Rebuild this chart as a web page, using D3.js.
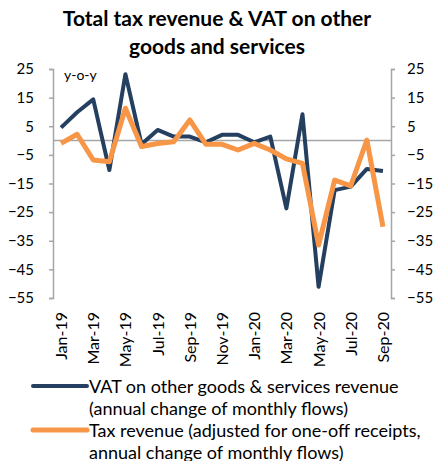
<!DOCTYPE html>
<html lang="en">
<head>
<meta charset="UTF-8">
<title>Total tax revenue & VAT on other goods and services</title>
<script src="https://d3js.org/d3.v7.min.js"></script>
<style>
  body { margin: 0; background: #fff; font-family: Lato, 'Open Sans', sans-serif; }
  svg { display: block; }
  .tick text { font-size: 15px; fill: #000; font-family: Lato, sans-serif; }
</style>
</head>
<body>
<svg width="433" height="461"></svg>
<script>
  // data
  const months = ["Jan-19","Feb-19","Mar-19","Apr-19","May-19","Jun-19","Jul-19","Aug-19","Sep-19","Oct-19","Nov-19","Dec-19",
                  "Jan-20","Feb-20","Mar-20","Apr-20","May-20","Jun-20","Jul-20","Aug-20","Sep-20"];
  const vatValues = [4.5, 9.9, 14.4, -10.3, 23.2, -1.3, 3.7, 1.4, 1.4, -0.6, 2.0, 2.0,
                     -0.6, 1.4, -23.7, 9.2, -51.1, -17.3, -16.1, -9.9, -10.6];
  const taxValues = [-1.0, 2.2, -6.8, -7.4, 11.3, -2.1, -1.0, -0.4, 7.2, -1.3, -1.3, -3.3,
                     -1.0, -3.3, -6.4, -8.0, -36.5, -13.8, -15.8, 0.2, -30.1];
  const yTicks = [25, 15, 5, -5, -15, -25, -35, -45, -55];
  const titleLines = ["Total tax revenue & VAT on other", "goods and services"];
  const legendLabels = [
    ["VAT on other goods & services revenue", "(annual change of monthly flows)"],
    ["Tax revenue (adjusted for one-off receipts,", "annual change of monthly flows)"]
  ];

  const svg = d3.select("svg");
  const plotL = 53, plotR = 391, plotT = 69, plotB = 298;

  const x = d3.scalePoint().domain(months).range([plotL, plotR]).padding(0.5);
  const y = d3.scaleLinear().domain([-55, 25]).range([plotB, plotT]);

  // title
  svg.append("g").selectAll("text").data(titleLines).enter().append("text")
    .attr("x", 217).attr("y", (d, i) => 26 + i * 28)
    .attr("text-anchor", "middle")
    .style("font-size", "21px").style("font-weight", "700")
    .text(d => d);

  // axes
  const axisL = svg.append("g").attr("transform", `translate(${plotL},0)`)
    .call(d3.axisLeft(y).tickValues(yTicks).tickSize(4).tickPadding(15));
  const axisR = svg.append("g").attr("transform", `translate(${plotR},0)`)
    .call(d3.axisRight(y).tickValues(yTicks).tickSize(4).tickPadding(12));
  [axisL, axisR].forEach(a => {
    a.select(".domain").attr("stroke", "#a6a6a6").attr("stroke-width", 1.5);
    a.selectAll(".tick line").attr("stroke", "#a6a6a6").attr("stroke-width", 1.5);
  });

  // zero line
  svg.append("line")
    .attr("x1", plotL).attr("x2", plotR)
    .attr("y1", y(0)).attr("y2", y(0))
    .attr("stroke", "#a6a6a6").attr("stroke-width", 1.5);

  // x labels, every second month
  svg.append("g").selectAll("text")
    .data(months.filter((d, i) => i % 2 === 0))
    .enter().append("text")
    .attr("transform", d => `translate(${x(d) + 6},${plotB + 14}) rotate(-90)`)
    .attr("text-anchor", "end")
    .style("font-size", "16px")
    .text(d => d);

  svg.append("text").attr("x", 64).attr("y", 80)
    .style("font-size", "14px").text("y-o-y");

  const line = d3.line().x((d, i) => x(months[i])).y(d => y(d));

  svg.append("path").datum(vatValues)
    .attr("d", line).attr("fill", "none")
    .attr("stroke", "#243f60").attr("stroke-width", 4)
    .attr("stroke-linejoin", "round");

  svg.append("path").datum(taxValues)
    .attr("d", line).attr("fill", "none")
    .attr("stroke", "#f79646").attr("stroke-width", 5)
    .attr("stroke-linejoin", "round");

  // legend
  const colors = ["#243f60", "#f79646"];
  const legend = svg.append("g");
  legendLabels.forEach((lines, k) => {
    const ly = 386 + k * 44;
    legend.append("line")
      .attr("x1", 33).attr("x2", 87).attr("y1", ly).attr("y2", ly)
      .attr("stroke", colors[k]).attr("stroke-width", k ? 5 : 4)
      .attr("stroke-linecap", "round");
    lines.forEach((t, j) => {
      legend.append("text")
        .attr("x", 89).attr("y", ly + 7 + j * 21.5)
        .style("font-size", "18px")
        .text(t);
    });
  });
</script>
</body>
</html>
